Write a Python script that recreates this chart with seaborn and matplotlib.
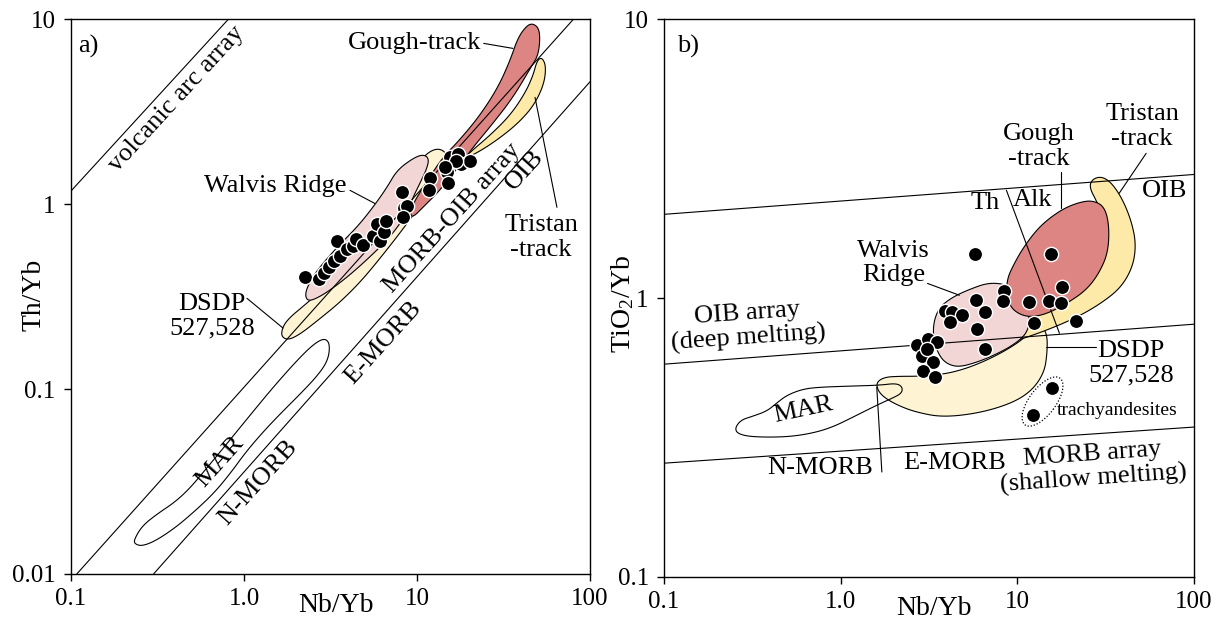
import numpy as np
import matplotlib
matplotlib.use("Agg")
import matplotlib.pyplot as plt
import matplotlib.transforms as mtransforms
from matplotlib.patches import Ellipse
from matplotlib.ticker import NullLocator
import pandas as pd
import seaborn as sns

sns.set_theme(style="white")
plt.rcParams["font.family"] = ["Liberation Serif", "DejaVu Serif"]
plt.rcParams["mathtext.fontset"] = "custom"
plt.rcParams["mathtext.rm"] = "Liberation Serif"
plt.rcParams["mathtext.it"] = "Liberation Serif:italic"
plt.rcParams["mathtext.default"] = "regular"
plt.rcParams["text.color"] = "black"
plt.rcParams["axes.labelcolor"] = "black"

# ---------------- Panel a: Th/Yb vs Nb/Yb ----------------
nb_yb_a = [2.25, 2.71, 2.90, 3.10, 3.31, 3.45, 3.59, 3.94, 4.27, 4.44, 4.87, 5.57,
           5.87, 6.11, 6.44, 6.62, 8.19, 8.41, 8.75, 8.30, 11.9, 11.7, 14.9, 15.1,
           15.5, 17.3, 18.0, 20.2, 16.8, 14.5]
th_yb_a = [0.403, 0.393, 0.424, 0.456, 0.492, 0.631, 0.523, 0.571, 0.593, 0.647,
           0.600, 0.671, 0.780, 0.631, 0.706, 0.809, 1.16, 0.951, 0.975, 0.851,
           1.38, 1.19, 1.49, 1.31, 1.80, 1.86, 1.65, 1.71, 1.71, 1.60]

# reference arrays (end points, Nb/Yb and Th/Yb)
arc_nb, arc_th = [0.1, 0.81], [1.18, 10.0]
morb_oib_upper_nb, morb_oib_upper_th = [0.108, 80.0], [0.01, 10.0]
morb_oib_lower_nb, morb_oib_lower_th = [0.30, 100.0], [0.01, 4.6]

# field outlines, log10(Nb/Yb) and log10(Th/Yb)
mar_a_lx = [-0.636, -0.590, -0.503, -0.399, -0.312, -0.225, -0.110, 0.035, 0.179, 0.324,
            0.410, 0.468, 0.497, 0.486, 0.428, 0.324, 0.208, 0.104, 0.006, -0.069,
            -0.168, -0.283, -0.399, -0.514, -0.590, -0.630]
mar_a_ly = [-1.816, -1.741, -1.676, -1.611, -1.535, -1.438, -1.308, -1.141, -0.978, -0.827,
            -0.751, -0.724, -0.757, -0.843, -0.924, -1.027, -1.135, -1.238, -1.346, -1.443,
            -1.557, -1.659, -1.751, -1.822, -1.849, -1.838]
dsdp_a_lx = [0.214, 0.225, 0.266, 0.329, 0.410, 0.526, 0.671, 0.815, 0.931, 1.006, 1.064,
             1.121, 1.168, 1.168, 1.133, 1.046, 0.931, 0.815, 0.682, 0.555, 0.428, 0.324, 0.254]
dsdp_a_ly = [-0.714, -0.659, -0.611, -0.562, -0.497, -0.384, -0.222, -0.043, 0.114, 0.222, 0.281,
             0.303, 0.281, 0.227, 0.151, 0.032, -0.119, -0.259, -0.411, -0.530, -0.627, -0.703, -0.735]
walvis_a_lx = [0.353, 0.370, 0.422, 0.538, 0.653, 0.746, 0.827, 0.884, 0.977, 1.035, 1.069,
               1.058, 1.017, 0.977, 0.942, 0.861, 0.786, 0.688, 0.595, 0.497, 0.422, 0.370]
walvis_a_ly = [-0.492, -0.438, -0.357, -0.232, -0.124, -0.016, 0.092, 0.184, 0.249, 0.270, 0.249,
               0.195, 0.114, 0.038, -0.049, -0.157, -0.232, -0.319, -0.395, -0.465, -0.508, -0.524]
gough_a_lx = [1.636, 1.671, 1.705, 1.711, 1.699, 1.665, 1.555, 1.439, 1.324, 1.237, 1.133, 1.035,
              0.977, 0.960, 0.977, 1.017, 1.075, 1.150, 1.249, 1.364, 1.468, 1.538, 1.584]
gough_a_ly = [0.968, 0.978, 0.951, 0.886, 0.805, 0.751, 0.578, 0.438, 0.308, 0.200, 0.076, -0.016,
              -0.070, -0.054, 0.000, 0.065, 0.151, 0.254, 0.351, 0.481, 0.632, 0.778, 0.903]
tristan_a_lx = [1.306, 1.422, 1.538, 1.624, 1.671, 1.694, 1.723, 1.746, 1.734, 1.676, 1.584,
                1.468, 1.353, 1.277]
tristan_a_ly = [0.281, 0.373, 0.481, 0.600, 0.697, 0.778, 0.795, 0.746, 0.649, 0.535, 0.438,
                0.351, 0.281, 0.249]

# ---------------- Panel b: TiO2/Yb vs Nb/Yb ----------------
nb_yb_b = [5.79, 15.6, 17.9, 8.45, 8.34, 11.7, 15.2, 17.7, 12.5, 21.5, 5.86, 6.52, 3.87, 4.24,
           4.89, 4.18, 5.94, 6.59, 2.72, 3.10, 3.49, 2.87, 3.31, 2.94, 3.44, 3.06]
tio2_yb_b = [1.44, 1.44, 1.10, 1.06, 0.976, 0.968, 0.976, 0.960, 0.814, 0.827, 0.984, 0.891,
             0.898, 0.891, 0.869, 0.820, 0.774, 0.656, 0.679, 0.713, 0.695, 0.620, 0.590,
             0.548, 0.521, 0.656]
trachy_nb = [15.8, 12.2]
trachy_tio2 = [0.476, 0.381]

oib_array_nb, oib_array_ti = [0.1, 100.0], [2.0, 2.78]
mid_array_nb, mid_array_ti = [0.1, 100.0], [0.58, 0.807]
morb_array_nb, morb_array_ti = [0.1, 100.0], [0.256, 0.345]
th_alk_nb, th_alk_ti = [8.67, 17.3], [2.44, 0.749]

mar_b_lx = [-0.599, -0.565, -0.497, -0.418, -0.362, -0.305, -0.215, -0.119, 0.068, 0.220, 0.316,
            0.350, 0.345, 0.294, 0.203, 0.068, -0.045, -0.158, -0.305, -0.497, -0.582]
mar_b_ly = [-0.466, -0.437, -0.423, -0.405, -0.376, -0.348, -0.326, -0.319, -0.315, -0.312, -0.305,
            -0.319, -0.341, -0.358, -0.384, -0.427, -0.462, -0.484, -0.498, -0.498, -0.487]
dsdp_b_lx = [0.203, 0.249, 0.333, 0.446, 0.588, 0.701, 0.814, 0.927, 1.023, 1.096, 1.141, 1.169,
             1.169, 1.153, 1.085, 0.972, 0.785, 0.576, 0.429, 0.333, 0.249, 0.209]
dsdp_b_ly = [-0.301, -0.283, -0.280, -0.280, -0.272, -0.254, -0.226, -0.190, -0.151, -0.108,
             -0.100, -0.133, -0.194, -0.265, -0.330, -0.376, -0.412, -0.427, -0.409, -0.387,
             -0.358, -0.330]
walvis_b_lx = [0.955, 0.842, 0.729, 0.633, 0.559, 0.525, 0.525, 0.559, 0.605, 0.672, 0.774, 0.870,
               0.966, 1.040, 1.068, 1.068, 1.011, 0.966]
walvis_b_ly = [0.047, 0.057, 0.032, 0.004, -0.032, -0.086, -0.151, -0.208, -0.237, -0.247, -0.229,
               -0.204, -0.172, -0.136, -0.097, -0.061, -0.036, 0.000]
gough_b_lx = [1.107, 1.181, 1.266, 1.350, 1.424, 1.492, 1.520, 1.514, 1.463, 1.390, 1.282, 1.164,
              1.068, 1.000, 0.955, 0.938, 0.944, 0.977, 1.028]
gough_b_ly = [0.244, 0.287, 0.323, 0.344, 0.351, 0.330, 0.262, 0.165, 0.090, 0.029, -0.018, -0.057,
              -0.068, -0.054, -0.025, 0.022, 0.072, 0.118, 0.176]
tristan_b_lx = [1.407, 1.424, 1.475, 1.531, 1.593, 1.644, 1.672, 1.655, 1.588, 1.475, 1.339, 1.181,
                1.040, 0.955, 0.927, 1.068, 1.237, 1.379, 1.463, 1.503, 1.497, 1.452]
tristan_b_ly = [0.398, 0.427, 0.437, 0.416, 0.358, 0.280, 0.197, 0.115, 0.039, -0.018, -0.068,
                -0.111, -0.143, -0.158, -0.115, -0.061, -0.025, 0.029, 0.100, 0.183, 0.272, 0.344]

COL_GOUGH = "#dc8583"
COL_WALVIS = "#f2d6d6"
COL_DSDP = "#fef4d4"
COL_TRISTAN = "#fde9a8"
LW = 0.8
FS = 19


def smooth_closed(lx, ly, n_iter=3):
    """Chaikin corner cutting of a closed outline (log space), returns ratios."""
    p = np.column_stack([lx, ly]).astype(float)
    for _ in range(n_iter):
        q = np.roll(p, -1, axis=0)
        p = np.column_stack([0.75 * p + 0.25 * q, 0.25 * p + 0.75 * q]).reshape(-1, 2)
    return 10 ** p[:, 0], 10 ** p[:, 1]


def field(ax, lx, ly, color, z):
    x, y = smooth_closed(lx, ly)
    face = "none" if color is None else color
    ax.fill(x, y, facecolor=face, edgecolor="black", lw=LW, zorder=z)


def style_axes(ax, yticks, ylabels):
    ax.set_xscale("log")
    ax.set_yscale("log")
    ax.set_xlim(0.1, 100)
    ax.set_ylim(yticks[0], yticks[-1])
    ax.set_xticks([0.1, 1, 10, 100])
    ax.set_xticklabels(["0.1", "1.0", "10", "100"])
    ax.set_yticks(yticks)
    ax.set_yticklabels(ylabels)
    ax.xaxis.set_minor_locator(NullLocator())
    ax.yaxis.set_minor_locator(NullLocator())
    ax.tick_params(axis="both", direction="out", length=5, width=1, colors="black",
                   labelsize=18, bottom=True, left=True)
    ax.tick_params(axis="x", pad=5)
    ax.tick_params(axis="y", pad=6)
    for s in ax.spines.values():
        s.set_color("black")
        s.set_linewidth(1)
    ax.set_xlabel("")
    ax.set_ylabel("")
    ax.text(0.51, -0.034, "Nb/Yb", transform=ax.transAxes, ha="center", va="top", fontsize=20)


def points(ax, xs, ys):
    df = pd.DataFrame({"Nb/Yb": xs, "ratio": ys})
    sns.scatterplot(data=df, x="Nb/Yb", y="ratio", ax=ax, color="black", edgecolor="white",
                    linewidth=1.0, s=105, zorder=6, legend=False)
    ax.set_xlabel("")
    ax.set_ylabel("")


def label(ax, x, y, s, rot=0, size=FS, ha="center", va="center"):
    ax.text(x, y, s, fontsize=size, rotation=rot, rotation_mode="anchor",
            ha=ha, va=va, zorder=8, linespacing=1.15, color="black")


def leader(ax, xs, ys):
    ax.plot(xs, ys, color="black", lw=LW, zorder=7)


fig = plt.figure(figsize=(12.18, 6.21), dpi=100)
ax_a = fig.add_axes([0.0583, 0.0757, 0.4261, 0.893])
ax_b = fig.add_axes([0.5452, 0.0709, 0.4351, 0.8977])

# ---- panel a ----
style_axes(ax_a, [0.01, 0.1, 1, 10], ["0.01", "0.1", "1", "10"])
ax_a.text(-0.072, 0.503, "Th/Yb", transform=ax_a.transAxes, rotation=90,
          ha="center", va="center", fontsize=20)
field(ax_a, mar_a_lx, mar_a_ly, None, 2)
field(ax_a, dsdp_a_lx, dsdp_a_ly, COL_DSDP, 2)
field(ax_a, walvis_a_lx, walvis_a_ly, COL_WALVIS, 3)
field(ax_a, tristan_a_lx, tristan_a_ly, COL_TRISTAN, 3)
field(ax_a, gough_a_lx, gough_a_ly, COL_GOUGH, 4)
for xs, ys in [(arc_nb, arc_th), (morb_oib_upper_nb, morb_oib_upper_th),
               (morb_oib_lower_nb, morb_oib_lower_th)]:
    ax_a.plot(xs, ys, color="black", lw=LW, zorder=5)
points(ax_a, nb_yb_a, th_yb_a)

ax_a.text(0.013, 0.952, "a)", transform=ax_a.transAxes, fontsize=FS, ha="left", va="center")
label(ax_a, 0.41, 3.70, "volcanic arc array", rot=47.5)
label(ax_a, 15.9, 0.84, "MORB-OIB array", rot=48)
label(ax_a, 42.1, 1.53, "OIB", rot=48)
label(ax_a, 6.35, 0.179, "E-MORB", rot=48)
label(ax_a, 1.21, 0.031, "N-MORB", rot=48)
label(ax_a, 0.726, 0.0403, "MAR", rot=48)
label(ax_a, 23.6, 7.42, "Gough-track", ha="right")
leader(ax_a, [24.3, 35.9], [7.42, 6.97])
label(ax_a, 52.1, 0.663, "Tristan\n-track")
leader(ax_a, [48.1, 64.4], [3.79, 0.963])
label(ax_a, 1.51, 1.25, "Walvis Ridge")
leader(ax_a, [4.10, 5.71], [1.19, 1.01])
label(ax_a, 0.653, 0.248, "DSDP\n527,528")
leader(ax_a, [1.04, 1.68], [0.310, 0.214])

# ---- panel b ----
style_axes(ax_b, [0.1, 1, 10], ["0.1", "1", "10"])
ax_b.text(-0.078, 0.49, "TiO$_2$/Yb", transform=ax_b.transAxes, rotation=90,
          ha="center", va="center", fontsize=20)
field(ax_b, dsdp_b_lx, dsdp_b_ly, COL_DSDP, 2)
field(ax_b, tristan_b_lx, tristan_b_ly, COL_TRISTAN, 2.5)
field(ax_b, walvis_b_lx, walvis_b_ly, COL_WALVIS, 3)
field(ax_b, gough_b_lx, gough_b_ly, COL_GOUGH, 4)
field(ax_b, mar_b_lx, mar_b_ly, None, 4.5)
for xs, ys in [(oib_array_nb, oib_array_ti), (mid_array_nb, mid_array_ti),
               (morb_array_nb, morb_array_ti), (th_alk_nb, th_alk_ti)]:
    ax_b.plot(xs, ys, color="black", lw=LW, zorder=5)
points(ax_b, nb_yb_b, tio2_yb_b)
points(ax_b, trachy_nb, trachy_tio2)

# dotted ring around the trachyandesites
xc = 10 ** np.mean(np.log10(trachy_nb))
yc = 10 ** np.mean(np.log10(trachy_tio2))
ring_tr = mtransforms.Affine2D().scale(fig.dpi / 72.0) + \
    mtransforms.ScaledTranslation(xc, yc, ax_b.transData)
ax_b.add_patch(Ellipse((0, 0), width=42, height=19, angle=53, transform=ring_tr,
                       facecolor="none", edgecolor="black", lw=0.9, linestyle=(0, (1, 1.5)),
                       zorder=7))

ax_b.text(0.0245, 0.952, "b)", transform=ax_b.transAxes, fontsize=FS, ha="left", va="center")
label(ax_b, 13.3, 3.51, "Gough\n-track")
leader(ax_b, [17.7, 17.7], [2.83, 2.10])
label(ax_b, 50.8, 4.13, "Tristan\n-track")
leader(ax_b, [53.6, 37.7], [3.31, 2.38])
label(ax_b, 67.8, 2.42, "OIB")
label(ax_b, 6.59, 2.19, "Th")
label(ax_b, 12.2, 2.25, "Alk")
label(ax_b, 1.99, 1.34, "Walvis\nRidge")
leader(ax_b, [3.10, 4.70], [1.13, 1.025])
label(ax_b, 0.299, 0.794, "OIB array\n(deep melting)", rot=4)
label(ax_b, 0.618, 0.397, "MAR", rot=12)
label(ax_b, 0.760, 0.246, "N-MORB")
leader(ax_b, [1.60, 1.71], [0.480, 0.238])
label(ax_b, 4.40, 0.256, "E-MORB")
label(ax_b, 26.8, 0.248, "MORB array\n(shallow melting)", rot=4)
label(ax_b, 44.1, 0.585, "DSDP\n527,528")
leader(ax_b, [14.6, 27.9], [0.667, 0.667])
label(ax_b, 36.7, 0.394, "trachyandesites", size=14)

fig.savefig("out.png", dpi=100)
